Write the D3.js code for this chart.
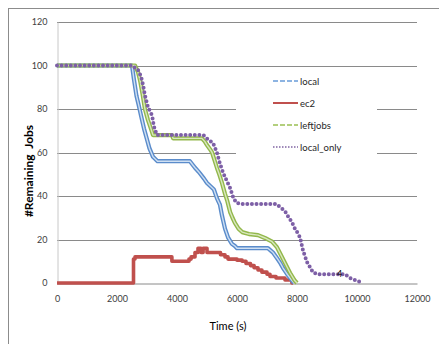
<!DOCTYPE html>
<html>
<head>
<meta charset="utf-8">
<script src="https://d3js.org/d3.v7.min.js"></script>
<style>
  body { margin: 0; background: #fff; }
  svg { display: block; font-family: Lato, "Open Sans", sans-serif; }
</style>
</head>
<body>
<div id="chart"></div>
<script>
// series: [time (s), remaining jobs]
const local = [[0,100],[2500,100],[2560,94],[2650,86],[2720,82],[2800,77],[2900,71],[3000,66],[3080,62],[3200,58],[3350,56],
  [4430,56],[4600,53],[4730,51],[4900,48],[5000,46],[5230,43],[5330,39],[5430,36],[5500,31],[5600,25],[5700,21],[5830,18],
  [5930,17],[6000,16],[7030,16],[7200,14],[7330,11.5],[7450,9],[7530,7],[7650,4.5],[7770,2.3],[7900,0]];
// ec2 is drawn as steps: each entry is the level from that time on
const ec2 = [[0,0],[2550,11],[2600,12],[3830,10],[4400,11],[4470,12],[4600,14],[4700,16],[4800,14],[4870,16],[5000,14],
  [5450,13],[5600,12],[5700,11],[6000,10.5],[6170,10],[6300,9],[6450,8],[6570,7],[6700,6],[6830,5],[7000,4],[7100,3],
  [7300,2.3],[7600,1.4],[7830,0],[7870,0]];
const leftjobs = [[0,100],[2600,100],[2700,97],[2770,93],[2850,87],[2930,80],[3030,75],[3130,71],[3200,68],[3830,68],
  [3870,66.5],[4830,66.5],[4930,65],[5000,63.4],[5100,61.5],[5170,60],[5250,56.5],[5330,53],[5420,49.5],[5500,46],[5600,41],
  [5670,38],[5770,32.6],[5850,30],[5930,27.6],[6050,25],[6170,23.4],[6400,22.5],[6700,22],[6930,20.7],[7170,19],[7330,16.5],
  [7430,13.8],[7600,9.2],[7770,4.6],[7930,1],[8000,0]];
const localOnly = [[0,100],[2500,100],[2600,99],[2700,98],[2800,95],[2870,91],[2930,86.4],[3030,81],[3170,77],[3230,72],
  [3330,68],[4870,68],[4930,67.5],[5030,66],[5200,64.4],[5330,60],[5430,55],[5530,51],[5600,48.7],[5770,43.7],[5870,39.5],
  [5970,37],[6100,36.3],[7300,36.3],[7430,35],[7600,33],[7730,30],[7830,28],[7930,25],[8000,23.5],[8100,21],[8200,15],
  [8330,9.7],[8430,7.4],[8530,5],[8670,4],[9600,4],[9700,3],[9770,2.3],[9930,1.4],[10100,0.5],[10170,0]];

const seriesNames = ['local', 'ec2', 'leftjobs', 'local_only'];
const xTicks = [0, 2000, 4000, 6000, 8000, 10000, 12000];
const yTicks = [0, 20, 40, 60, 80, 100, 120];
const pointLabel = [9420, 4, '4'];

var width = 439, height = 344;
var svg = d3.select('#chart').append('svg')
    .attr('width', width)
    .attr('height', height);

// outer chart frame (runs off the right/bottom edge)
svg.append('rect')
    .attr('x', 8.5).attr('y', 8.5)
    .attr('width', 460).attr('height', 360)
    .style('fill', '#fff')
    .style('stroke', '#8c8c8c')
    .style('stroke-width', 1);

var x = d3.scaleLinear().domain([0, 12000]).range([57, 417]);
var y = d3.scaleLinear().domain([0, 120]).range([283, 22]);

// gridlines
svg.append('g')
    .selectAll('line')
    .data(yTicks.filter(function(d){ return d > 0; }))
    .join('line')
    .attr('x1', x(0)).attr('x2', x(12000))
    .attr('y1', function(d){ return Math.round(y(d)) + 0.5; })
    .attr('y2', function(d){ return Math.round(y(d)) + 0.5; })
    .style('stroke', '#8a8a8a')
    .style('stroke-width', 1);

// axes
var yAxis = svg.append('g')
    .attr('transform', 'translate(' + (x(0) + 0.5) + ',0)')
    .call(d3.axisLeft(y).tickValues(yTicks).tickSize(0).tickPadding(10));
var xAxis = svg.append('g')
    .attr('transform', 'translate(0,' + (Math.round(y(0)) + 0.5) + ')')
    .call(d3.axisBottom(x).tickValues(xTicks).tickSize(0).tickPadding(12).tickFormat(d3.format('d')));
yAxis.select('.domain').style('stroke', '#c8c8c8');
xAxis.select('.domain').style('stroke', '#8a8a8a');
svg.selectAll('.tick text')
    .style('font-family', 'Lato, sans-serif')
    .style('font-size', '9px')
    .style('fill', '#404040');

// axis titles
svg.append('text')
    .attr('transform', 'translate(33,171) rotate(-90)')
    .attr('text-anchor', 'middle')
    .style('font-size', '12px')
    .style('font-weight', 'bold')
    .text('#Remaining\u00a0 Jobs');
svg.append('text')
    .attr('x', 228).attr('y', 330)
    .attr('text-anchor', 'middle')
    .style('font-size', '11px')
    .text('Time (s)');

var line = d3.line()
    .x(function(d){ return x(d[0]); })
    .y(function(d){ return y(d[1]); });
var stepLine = d3.line()
    .curve(d3.curveStepAfter)
    .x(function(d){ return x(d[0]); })
    .y(function(d){ return y(d[1]); });

// legend background hides the gridlines behind it
svg.append('rect')
    .attr('x', 236).attr('y', 70)
    .attr('width', 141).attr('height', 92)
    .style('fill', '#fff');

// double lines for local / leftjobs
function doubleLine(data, outer, inner){
    svg.append('path').datum(data).attr('d', line)
        .style('fill', 'none').style('stroke', outer).style('stroke-width', 4.2)
        .style('stroke-linejoin', 'round');
    svg.append('path').datum(data).attr('d', line)
        .style('fill', 'none').style('stroke', inner).style('stroke-width', 1.4)
        .style('stroke-linejoin', 'round');
}

svg.append('path').datum(ec2).attr('d', stepLine)
    .style('fill', 'none').style('stroke', '#c0504d').style('stroke-width', 3.6)
    .style('stroke-linejoin', 'round');
doubleLine(local, '#5b8ccb', '#cfe0f3');
doubleLine(leftjobs, '#93b84c', '#d9e8bf');
svg.append('path').datum(localOnly).attr('d', line)
    .style('fill', 'none').style('stroke', '#7d5fa6').style('stroke-width', 4)
    .style('stroke-linecap', 'round')
    .style('stroke-dasharray', '0,4.6');

svg.append('text')
    .attr('x', x(pointLabel[0])).attr('y', y(pointLabel[1]) + 3)
    .attr('text-anchor', 'middle')
    .style('font-size', '9px')
    .text(pointLabel[2]);

// legend
var legendStyles = [
    {color: '#8db4e2', width: 2, dash: '5,2'},
    {color: '#c0504d', width: 2, dash: null},
    {color: '#b3cf7d', width: 2, dash: '5,2'},
    {color: '#8064a2', width: 1.6, dash: '1.5,1.5'}
];
var legend = svg.append('g').selectAll('g')
    .data(seriesNames)
    .join('g')
    .attr('transform', function(d, i){ return 'translate(273,' + (81 + i * 22) + ')'; });
legend.append('line')
    .attr('x1', 0).attr('x2', 25)
    .style('stroke', function(d, i){ return legendStyles[i].color; })
    .style('stroke-width', function(d, i){ return legendStyles[i].width; })
    .style('stroke-dasharray', function(d, i){ return legendStyles[i].dash; });
legend.append('text')
    .attr('x', 27).attr('y', 3.5)
    .style('font-size', '9.5px')
    .style('fill', '#262626')
    .text(function(d){ return d; });
</script>
</body>
</html>
